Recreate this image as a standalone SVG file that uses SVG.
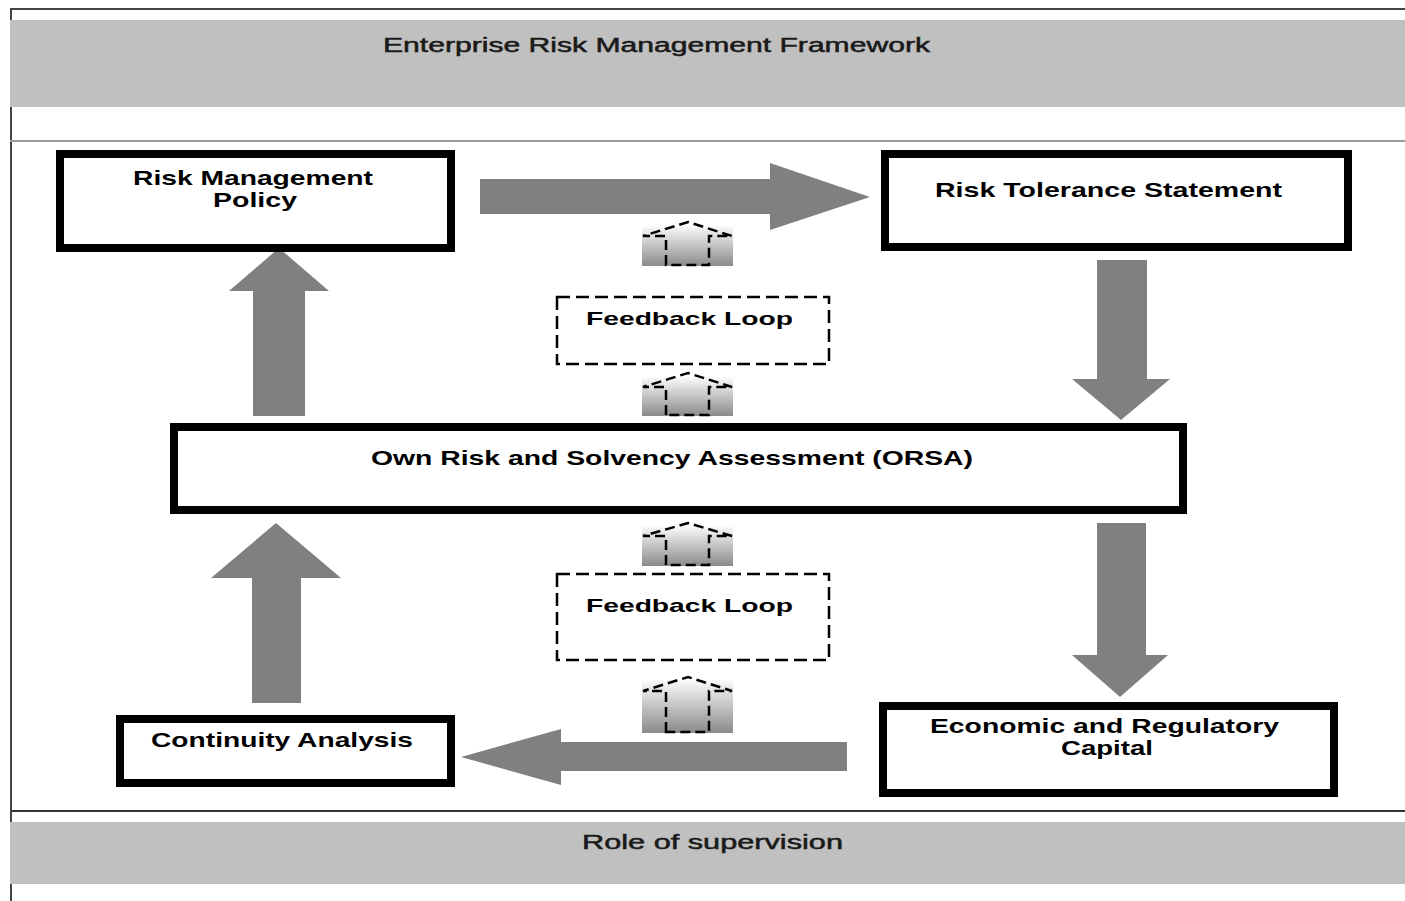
<svg xmlns="http://www.w3.org/2000/svg" width="1405" height="901" viewBox="0 0 1405 901">
<style>
.band{fill:#c0c0c0}
.frame{stroke:#444;stroke-width:2;fill:none}
.box{fill:#fff;stroke:#000;stroke-width:8}
.dbox{fill:#fff;stroke:#000;stroke-width:2.5;stroke-dasharray:13 6}
.arrow{fill:#808080}
.icon{fill:none;stroke:#000;stroke-width:2.5;stroke-dasharray:10 5}
.lbl{font-family:"Liberation Sans",Arial,sans-serif;font-weight:bold;font-size:20.5px;fill:#000}
.fb{font-family:"Liberation Sans",Arial,sans-serif;font-weight:bold;font-size:19px;fill:#000}
.hdr{font-family:"Liberation Sans",Arial,sans-serif;font-size:20px;fill:#1a1a1a;stroke:#1a1a1a;stroke-width:0.5}
</style>
<defs>
<linearGradient id="ig" x1="0" y1="0" x2="0" y2="1">
<stop offset="0" stop-color="#fbfbfb"/>
<stop offset="1" stop-color="#8a8a8a"/>
</linearGradient>
</defs>
<rect width="1405" height="901" fill="#fff"/>
<g id="frame">
<line class="frame" x1="10" y1="9" x2="1405" y2="9" stroke="#555"/>
<rect class="band" x="10" y="20" width="1395" height="87"/>
<line class="frame" x1="11" y1="9" x2="11" y2="20"/>
<line class="frame" x1="11" y1="107" x2="11" y2="822"/>
<line x1="10" y1="141" x2="1405" y2="141" stroke="#999" stroke-width="2"/>
<line x1="11" y1="811" x2="1405" y2="811" stroke="#333" stroke-width="2"/>
<rect class="band" x="10" y="822" width="1395" height="62"/>
<line class="frame" x1="11" y1="884" x2="11" y2="901"/>
<text class="hdr" x="383" y="52" textLength="547" lengthAdjust="spacingAndGlyphs">Enterprise Risk Management Framework</text>
<text class="hdr" x="582" y="849" textLength="261" lengthAdjust="spacingAndGlyphs">Role of supervision</text>
</g>
<g id="connectors">
<polygon class="arrow" points="480,179 770,179 770,163 870,197 770,230 770,214 480,214"/>
<polygon class="arrow" points="1097,260 1147,260 1147,379 1170,379 1121,420 1072,379 1097,379"/>
<polygon class="arrow" points="1097,523 1146,523 1146,655 1168,655 1120,697 1072,655 1097,655"/>
<polygon class="arrow" points="847,742 561,742 561,729 461,757 561,785 561,771 847,771"/>
<polygon class="arrow" points="252,703 252,578 211,578 276,523 341,578 301,578 301,703"/>
<polygon class="arrow" points="253,416 253,291 229,291 279,248 329,291 305,291 305,416"/>
<g id="icon1">
<rect x="642" y="226" width="91" height="40" fill="url(#ig)"/>
<path class="icon" d="M666,265 V236 H643 L688,222 L732,236 H709 V265 Z"/>
</g>
<g id="icon2">
<rect x="642" y="377" width="91" height="39" fill="url(#ig)"/>
<path class="icon" d="M666,415 V387 H643 L688,373 L732,387 H709 V415 Z"/>
</g>
<g id="icon3">
<rect x="642" y="526" width="91" height="40" fill="url(#ig)"/>
<path class="icon" d="M666,565 V536 H643 L688,523 L732,536 H709 V565 Z"/>
</g>
<g id="icon4">
<rect x="642" y="680" width="91" height="53" fill="url(#ig)"/>
<path class="icon" d="M666,732 V691 H643 L688,677 L732,691 H709 V732 Z"/>
</g>
</g>
<g id="risk-management-policy">
<rect class="box" x="60" y="154" width="391" height="94"/>
<text class="lbl" x="133" y="185" textLength="240" lengthAdjust="spacingAndGlyphs">Risk Management</text>
<text class="lbl" x="213" y="207" textLength="84" lengthAdjust="spacingAndGlyphs">Policy</text>
</g>
<g id="risk-tolerance-statement">
<rect class="box" x="885" y="154" width="463" height="93"/>
<text class="lbl" x="935" y="197" textLength="347" lengthAdjust="spacingAndGlyphs">Risk Tolerance Statement</text>
</g>
<g id="feedback-loop-1">
<rect class="dbox" x="557" y="297" width="272" height="67"/>
<text class="fb" x="586" y="325" textLength="207" lengthAdjust="spacingAndGlyphs">Feedback Loop</text>
</g>
<g id="orsa">
<rect class="box" x="174" y="427" width="1009" height="83"/>
<text class="lbl" x="371" y="465" textLength="602" lengthAdjust="spacingAndGlyphs">Own Risk and Solvency Assessment (ORSA)</text>
</g>
<g id="feedback-loop-2">
<rect class="dbox" x="557" y="574" width="272" height="86"/>
<text class="fb" x="586" y="612" textLength="207" lengthAdjust="spacingAndGlyphs">Feedback Loop</text>
</g>
<g id="continuity-analysis">
<rect class="box" x="120" y="719" width="331" height="64"/>
<text class="lbl" x="151" y="747" textLength="262" lengthAdjust="spacingAndGlyphs">Continuity Analysis</text>
</g>
<g id="economic-regulatory-capital">
<rect class="box" x="883" y="706" width="451" height="87"/>
<text class="lbl" x="930" y="733" textLength="349" lengthAdjust="spacingAndGlyphs">Economic and Regulatory</text>
<text class="lbl" x="1061" y="755" textLength="92" lengthAdjust="spacingAndGlyphs">Capital</text>
</g>
</svg>
